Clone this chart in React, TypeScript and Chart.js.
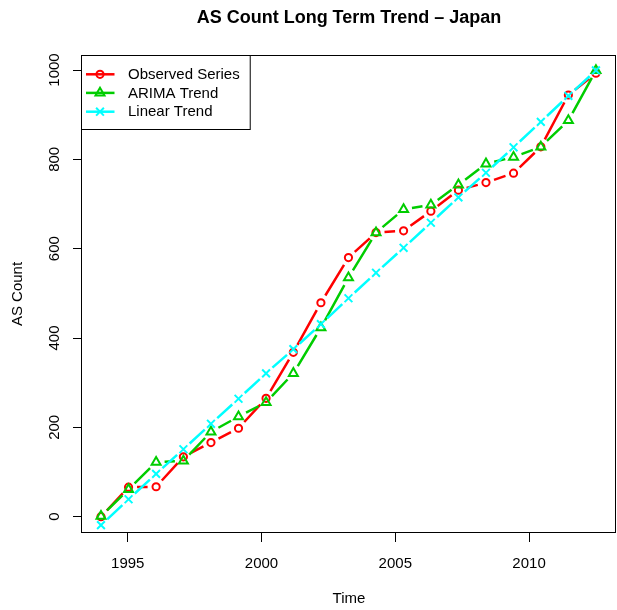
import React, { useEffect, useRef } from "react";
import { Chart, registerables } from "chart.js";

Chart.register(...registerables);

// ---- Data ----
const timePoints = [
  1994.0, 1995.03, 1996.06, 1997.08, 1998.11, 1999.14, 2000.17, 2001.19, 2002.22, 2003.25,
  2004.28, 2005.31, 2006.33, 2007.36, 2008.39, 2009.42, 2010.44, 2011.47, 2012.5,
];
const observedSeries = [0, 66, 67, 134, 166, 198, 265, 368, 479, 580, 636, 640, 684, 731, 748, 769, 828, 944, 993];
const arimaTrend = [1, 61, 122, 125, 190, 224, 256, 321, 423, 535, 636, 688, 698, 743, 790, 805, 828, 887, 999];
const linearTrend = [-19, 39, 96, 151, 208, 264, 321, 375, 431, 489, 546, 602, 658, 715, 770, 827, 884, 942, 999];
const xTickValues = [1995, 2000, 2005, 2010];
const yTickValues = [0, 200, 400, 600, 800, 1000];
const seriesNames = ["Observed Series", "ARIMA Trend", "Linear Trend"];
const chartTitle = "AS Count Long Term Trend \u2013 Japan";
const xTitle = "Time";
const yTitle = "AS Count";

const FONT = '"Liberation Sans", Arial, Helvetica, sans-serif';
const RED = "#FF0000";
const GREEN = "#00CD00";
const CYAN = "#00FFFF";
const LINE_W = 2.5;
const MARK_W = 2;
const GAP = 8.5;

type Marker = "circle" | "triangle" | "crossRot";
const markerRadius: Record<Marker, number> = { circle: 3.6, triangle: 5.2, crossRot: 5.5 };

function drawMarker(ctx: CanvasRenderingContext2D, kind: Marker, x: number, y: number, color: string) {
  const r = markerRadius[kind];
  ctx.save();
  ctx.strokeStyle = color;
  ctx.lineWidth = MARK_W;
  ctx.beginPath();
  if (kind === "circle") {
    ctx.arc(x, y, r, 0, Math.PI * 2);
  } else if (kind === "triangle") {
    ctx.moveTo(x, y - r);
    ctx.lineTo(x + r * 0.866, y + r / 2);
    ctx.lineTo(x - r * 0.866, y + r / 2);
    ctx.closePath();
  } else {
    const o = r * 0.7071;
    ctx.moveTo(x - o, y - o);
    ctx.lineTo(x + o, y + o);
    ctx.moveTo(x + o, y - o);
    ctx.lineTo(x - o, y + o);
  }
  ctx.stroke();
  ctx.restore();
}

const seriesColors = [RED, GREEN, CYAN];
const seriesMarkers: Marker[] = ["circle", "triangle", "crossRot"];

// Lines with gaps around points (R type = "b")
const gapLinePlugin = {
  id: "gapLines",
  beforeDatasetDraw(chart: any, args: any) {
    const ds = chart.data.datasets[args.index];
    const pts = args.meta.data;
    const ctx: CanvasRenderingContext2D = chart.ctx;
    ctx.save();
    ctx.strokeStyle = ds.borderColor;
    ctx.lineWidth = LINE_W;
    ctx.lineCap = "butt";
    ctx.beginPath();
    for (let i = 0; i < pts.length - 1; i++) {
      const p0 = pts[i];
      const p1 = pts[i + 1];
      const dx = p1.x - p0.x;
      const dy = p1.y - p0.y;
      const d = Math.hypot(dx, dy);
      if (d <= 2 * GAP) continue;
      const ux = dx / d;
      const uy = dy / d;
      ctx.moveTo(p0.x + ux * GAP, p0.y + uy * GAP);
      ctx.lineTo(p1.x - ux * GAP, p1.y - uy * GAP);
    }
    ctx.stroke();
    ctx.restore();
  },
};

const boxPlugin = {
  id: "plotBox",
  afterDraw(chart: any) {
    const { ctx, chartArea } = chart;
    ctx.save();
    ctx.strokeStyle = "#000";
    ctx.lineWidth = 1;
    const l = Math.round(chartArea.left) - 0.5;
    const t = Math.round(chartArea.top) + 0.5;
    const r = Math.round(chartArea.right) - 0.5;
    const b = Math.round(chartArea.bottom) - 0.5;
    ctx.strokeRect(l, t, r - l, b - t);

    // legend (top-left, R style)
    ctx.font = `15px ${FONT}`;
    const textX = chartArea.left + 46;
    let maxW = 0;
    seriesNames.forEach((n) => (maxW = Math.max(maxW, ctx.measureText(n).width)));
    const boxW = textX - l + maxW + 10.5;
    const boxH = 74;
    ctx.fillStyle = "#fff";
    ctx.fillRect(l, t, boxW, boxH);
    ctx.strokeRect(l, t, boxW, boxH);
    const rowY = [19.3, 37.9, 56.7];
    seriesNames.forEach((name, i) => {
      const y = chartArea.top + rowY[i];
      ctx.strokeStyle = seriesColors[i];
      ctx.lineWidth = LINE_W;
      ctx.beginPath();
      ctx.moveTo(chartArea.left + 4, y);
      ctx.lineTo(chartArea.left + 32.5, y);
      ctx.stroke();
      drawMarker(ctx, seriesMarkers[i], chartArea.left + 18, y, seriesColors[i]);
      ctx.fillStyle = "#000";
      ctx.textAlign = "left";
      ctx.textBaseline = "middle";
      ctx.fillText(name, textX, y + 0.5);
    });
    ctx.restore();
  },
};

export default function App() {
  const canvasRef = useRef<HTMLCanvasElement | null>(null);

  useEffect(() => {
    const canvas = canvasRef.current;
    if (!canvas) return;
    const makeDs = (label: string, data: number[], color: string, marker: Marker, order: number) => ({
      label,
      data: timePoints.map((t, i) => ({ x: t, y: data[i] })),
      borderColor: color,
      backgroundColor: color,
      showLine: false,
      pointStyle: marker,
      pointRadius: markerRadius[marker],
      pointHoverRadius: markerRadius[marker],
      pointBorderWidth: MARK_W,
      pointBorderColor: color,
      pointBackgroundColor: "rgba(0,0,0,0)",
      order,
    });

    const chart = new Chart(canvas, {
      type: "line",
      data: {
        datasets: [
          makeDs(seriesNames[0], observedSeries, RED, "circle", 3),
          makeDs(seriesNames[1], arimaTrend, GREEN, "triangle", 2),
          makeDs(seriesNames[2], linearTrend, CYAN, "crossRot", 1),
        ],
      },
      options: {
        animation: false,
        responsive: false,
        devicePixelRatio: 1,
        layout: { autoPadding: false, padding: { top: 0, left: 0, right: 1, bottom: 0 } },
        plugins: {
          legend: { display: false },
          tooltip: { enabled: false },
          title: {
            display: true,
            text: chartTitle,
            fullSize: false,
            color: "#000",
            font: { family: FONT, size: 18, weight: "bold", lineHeight: 1.2 },
            padding: { top: 7.2, bottom: 26.2 },
          },
        },
        scales: {
          x: {
            type: "linear",
            min: 1993.29,
            max: 2013.25,
            afterBuildTicks: (scale: any) => {
              scale.ticks = xTickValues.map((v) => ({ value: v }));
            },
            afterFit: (scale: any) => {
              scale.height = 77;
            },
            grid: { display: true, drawOnChartArea: false, drawTicks: true, tickLength: 9, color: "#000", lineWidth: 1 },
            border: { display: false },
            ticks: {
              color: "#000",
              font: { family: FONT, size: 15 },
              padding: 13,
              maxRotation: 0,
              autoSkip: false,
              callback: (v: any) => String(v),
            },
            title: {
              display: true,
              text: xTitle,
              color: "#000",
              font: { family: FONT, size: 15 },
              padding: { top: 0, bottom: 2 },
            },
          },
          y: {
            type: "linear",
            min: -36.5,
            max: 1033.6,
            afterBuildTicks: (scale: any) => {
              scale.ticks = yTickValues.map((v) => ({ value: v }));
            },
            afterFit: (scale: any) => {
              scale.width = 82;
            },
            grid: { display: true, drawOnChartArea: false, drawTicks: true, tickLength: 9, color: "#000", lineWidth: 1 },
            border: { display: false },
            ticks: {
              color: "#000",
              font: { family: FONT, size: 15 },
              padding: 1,
              minRotation: 90,
              maxRotation: 90,
              crossAlign: "center",
              autoSkip: false,
              callback: (v: any) => String(v),
            },
            title: {
              display: true,
              text: yTitle,
              color: "#000",
              font: { family: FONT, size: 15 },
              padding: { top: 8.5, bottom: 0 },
            },
          },
        },
      } as any,
      plugins: [gapLinePlugin, boxPlugin],
    });
    return () => chart.destroy();
  }, []);

  return (
    <div style={{ position: "absolute", left: 0, top: 0, width: 617, height: 610, background: "#fff" }}>
      <canvas ref={canvasRef} width={617} height={610} style={{ display: "block" }} />
    </div>
  );
}
